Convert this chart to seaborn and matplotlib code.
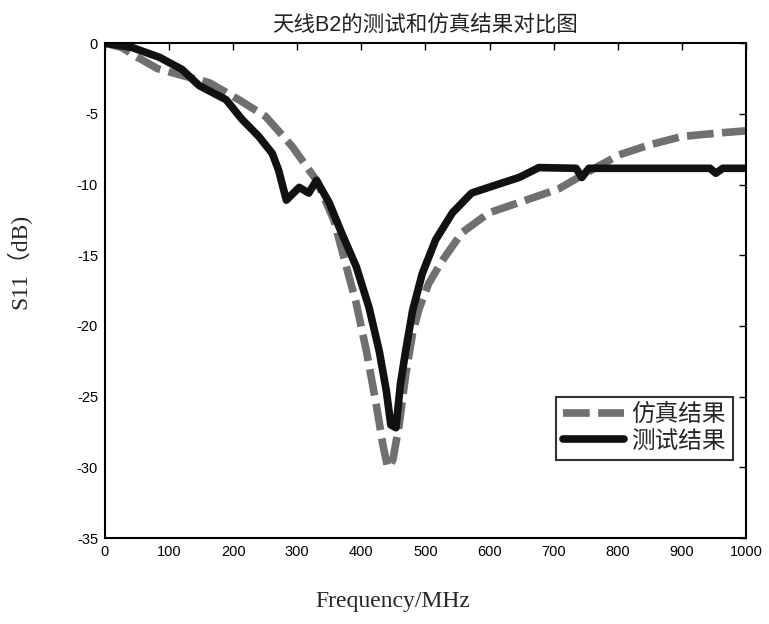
import pandas as pd
import seaborn as sns
import matplotlib
matplotlib.use('Agg')
import matplotlib.pyplot as plt

# simulated S11 (gray dashed)
sim_freq = [0, 26, 51, 82, 122, 163, 209, 251, 292, 330, 357, 392, 408, 423, 434, 441,
            449, 459, 469, 480, 490, 505, 526, 557, 599, 657, 708, 750, 802, 849, 900, 958, 1000]
sim_s11 = [0, -0.3, -1.0, -1.8, -2.3, -2.8, -4.0, -5.2, -7.3, -9.7, -12.5, -18.4, -21.8, -25.5, -28.5, -30.0,
           -29.5, -27.0, -23.5, -20.5, -18.8, -17.0, -15.4, -13.4, -12.0, -11.1, -10.3, -9.2, -7.9, -7.2, -6.6, -6.35, -6.2]

# measured S11 (black solid)
meas_freq = [0, 42, 85, 120, 147, 189, 214, 240, 261, 271, 283, 303, 318, 330, 350, 369, 392, 412,
             428, 439, 446, 454, 461, 469, 480, 495, 516, 542, 572, 612, 646, 677, 735, 744, 755, 944, 953, 964, 1000]
meas_s11 = [0, -0.3, -1.0, -1.85, -3.0, -4.0, -5.4, -6.6, -7.8, -9.0, -11.1, -10.2, -10.6, -9.7, -11.3, -13.4, -15.8, -18.7,
            -21.8, -24.6, -27.0, -27.2, -24.1, -21.8, -18.9, -16.3, -13.9, -12.0, -10.6, -10.0, -9.5, -8.8, -8.85, -9.5, -8.85, -8.85, -9.2, -8.85, -8.85]

labels = ['仿真结果', '测试结果']
title = '天线B2的测试和仿真结果对比图'

sns.set_style('white')
plt.rcParams['font.family'] = ['Liberation Sans', 'Noto Sans CJK SC']
plt.rcParams['axes.unicode_minus'] = False

fig = plt.figure(figsize=(7.69, 6.24), dpi=100)
ax = fig.add_axes([0.1365, 0.1378, 0.8335, 0.793])

sim = pd.DataFrame({'freq': sim_freq, 's11': sim_s11})
meas = pd.DataFrame({'freq': meas_freq, 's11': meas_s11})

sns.lineplot(data=sim, x='freq', y='s11', ax=ax, color='#707070', linewidth=5.5,
             label=labels[0])
ax.lines[-1].set_linestyle((0, (3.5, 1.1)))
sns.lineplot(data=meas, x='freq', y='s11', ax=ax, color='#111111', linewidth=5.5,
             label=labels[1])

ax.set_xlim(0, 1000)
ax.set_ylim(-35, 0)
ax.set_xticks(range(0, 1001, 100))
ax.set_yticks(range(-35, 1, 5))
ax.tick_params(direction='in', top=True, right=True, length=5, width=1,
               labelsize=10.5, colors='black', pad=5)
for s in ax.spines.values():
    s.set_linewidth(1.5)
    s.set_color('black')

ax.set_title(title, fontsize=15.5, pad=9, color='#222222')
ax.set_xlabel('Frequency/MHz', fontsize=17,
              family=['Liberation Serif', 'Noto Sans CJK SC'])
ax.set_ylabel('S11（dB)', fontsize=17,
              family=['Liberation Serif', 'Noto Sans CJK SC'])
ax.xaxis.set_label_coords(0.449, -0.107)
ax.yaxis.set_label_coords(-0.114, 0.558)

leg = ax.legend(loc='lower right', bbox_to_anchor=(0.98, 0.158), fontsize=17,
                frameon=True, fancybox=False, handlelength=2.6, borderpad=0.3,
                labelspacing=0.2, handletextpad=0.3, borderaxespad=0)
leg.get_frame().set_edgecolor('black')
leg.get_frame().set_linewidth(1.5)

fig.savefig('out.png', dpi=100)
